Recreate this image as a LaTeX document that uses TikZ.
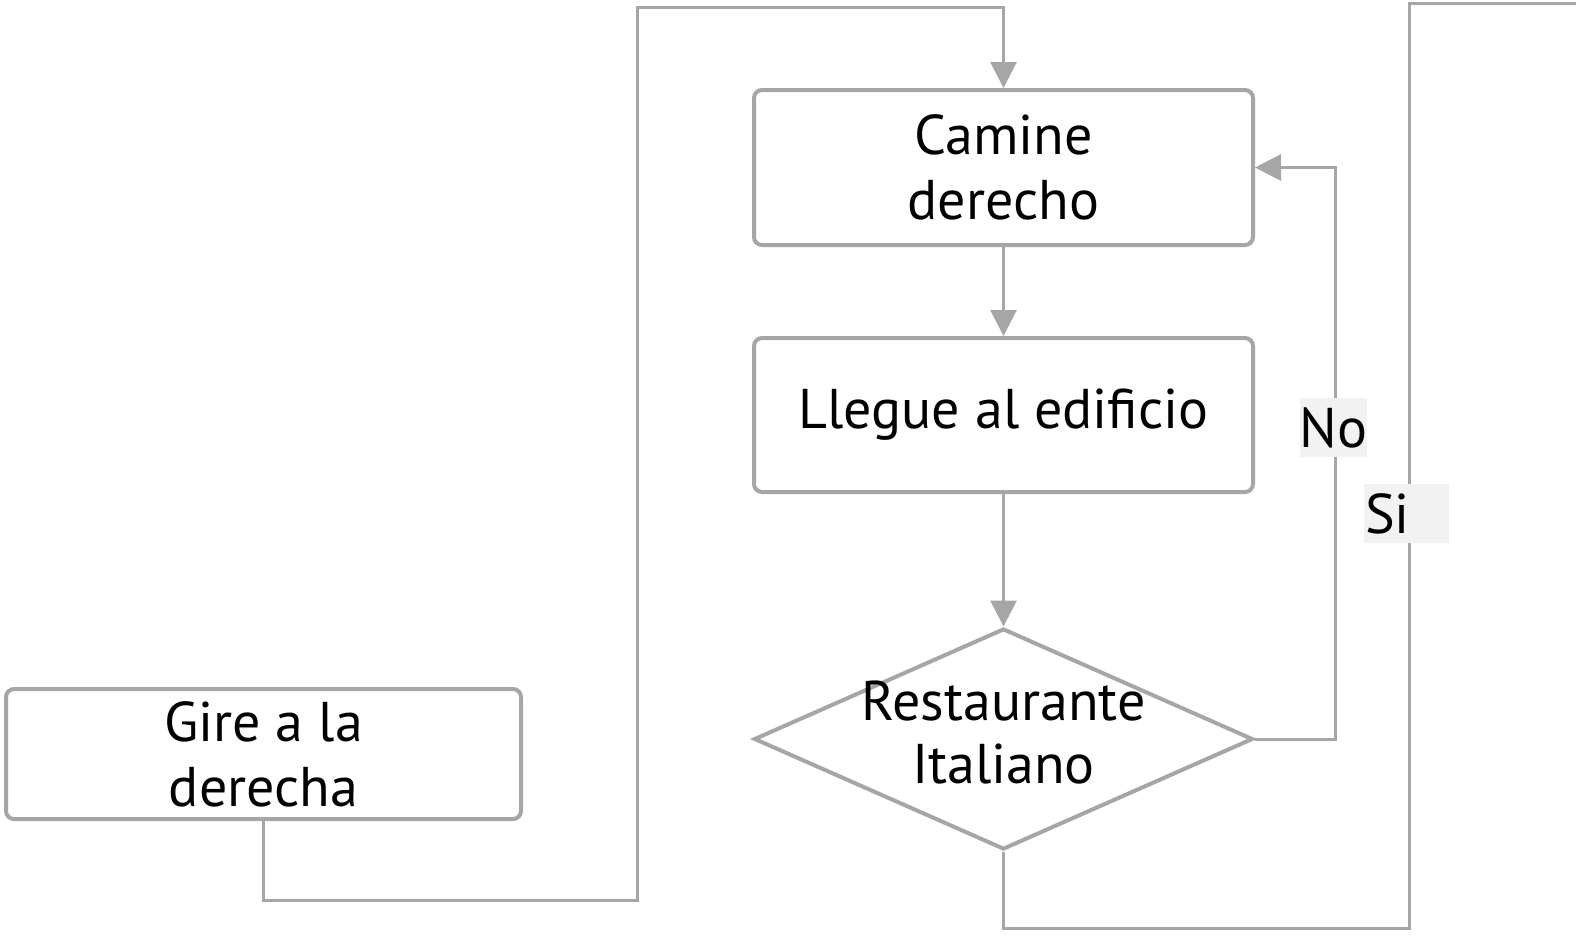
\documentclass[tikz,border=0pt]{standalone}
\usepackage{fontspec}
\setmainfont{PT Sans}
\usepackage{tikz}
\usetikzlibrary{arrows.meta,shapes.geometric}
\definecolor{lineg}{HTML}{A6A6A6}
\definecolor{labelbg}{HTML}{F2F2F2}
\tikzset{
  stepbox/.style={draw=lineg,line width=2pt,rounded corners=4pt,inner sep=0pt,align=center},
  decision/.style={diamond,draw=lineg,line width=2pt,inner sep=0pt,minimum width=249.5pt,minimum height=110.5pt},
  conn/.style={draw=lineg,line width=1.5pt,-{Triangle[length=13pt,width=13pt]}},
  plain/.style={draw=lineg,line width=1.5pt},
  answer/.style={fill=labelbg,inner sep=0pt,minimum height=29.5pt}
}
\begin{document}
\begin{tikzpicture}[x=0.5pt,y=-0.5pt,font=\fontsize{28}{32.5}\selectfont]
\useasboundingbox (0,0) rectangle (1576,939);
\node[stepbox,minimum width=249.5pt,minimum height=77.5pt] (camine) at (1003.5,167.5) {Camine\\derecho};
\node[stepbox,minimum width=249.5pt,minimum height=77pt] (llegue) at (1003.5,415) {Llegue al edificio};
\node[decision,label={center:{\begin{tabular}{@{}c@{}}Restaurante\\[-1pt]Italiano\end{tabular}}}] (rest) at (1003.5,739) {};
\node[stepbox,minimum width=257.5pt,minimum height=65pt] (gire) at (263.5,754) {Gire a la\\derecha};
% bends of the loops
\coordinate (noturn) at (1335,167.5);
\coordinate (sibot) at (1409,928);
\coordinate (sitop) at (1409,3);
\coordinate (siend) at (1576,3);
\coordinate (gbot) at (637,900);
\coordinate (gtop) at (637,7);
\draw[conn] (camine) -- (llegue);
\draw[conn] (llegue) -- (rest);
\draw[conn] (rest.east) -| (noturn) -- (camine.east);
\draw[plain] (rest.south) |- (sibot) -- (sitop) -- (siend);
\draw[conn] (gire.south) |- (gbot) -- (gtop) -| (camine.north);
\node[answer,minimum width=33.5pt] (no) at (1333.5,427.5) {No};
\node[answer,minimum width=42.5pt,text width=41.5pt,align=left] (si) at (1406.5,513.5) {Si};
\end{tikzpicture}
\end{document}
